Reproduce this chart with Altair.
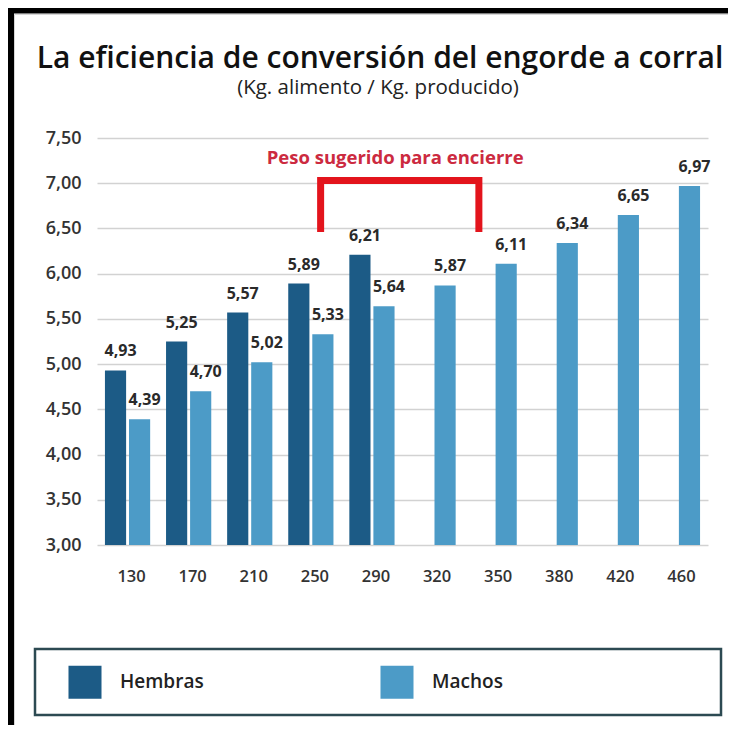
import altair as alt
import pandas as pd

categorias = ["130", "170", "210", "250", "290", "320", "350", "380", "420", "460"]
hembras = [4.93, 5.25, 5.57, 5.89, 6.21, None, None, None, None, None]
machos = [4.39, 4.70, 5.02, 5.33, 5.64, 5.87, 6.11, 6.34, 6.65, 6.97]
series = ["Hembras", "Machos"]
colores = ["#1c5b86", "#4c9bc7"]

titulo = "La eficiencia de conversión del engorde a corral"
subtitulo = "(Kg. alimento / Kg. producido)"
nota = "Peso sugerido para encierre"

# bracket in band units (0..10 across the x range) and y data units
bracket_x = [3.66, 3.66, 6.25, 6.25]
bracket_y = [6.46, 7.03, 7.03, 6.46]

FONT = "Open Sans"
W, H = 611, 407

rows = []
for c, h, m in zip(categorias, hembras, machos):
    if h is not None:
        rows.append({"peso": c, "sexo": "Hembras", "valor": h})
    if m is not None:
        rows.append({"peso": c, "sexo": "Machos", "valor": m})
df = pd.DataFrame(rows)

xenc = alt.X("peso:N", sort=categorias,
             scale=alt.Scale(paddingInner=0.26, paddingOuter=0.13),
             axis=alt.Axis(title=None, labelAngle=0, ticks=False, domain=False,
                           labelFont=FONT, labelFontSize=16.5, labelFontWeight=600,
                           labelColor="#333333", labelPadding=23, labelOffset=4))
xoff = alt.XOffset("sexo:N", scale=alt.Scale(domain=series, paddingInner=0.12))
yenc = alt.Y("valor:Q",
             scale=alt.Scale(domain=[3, 7.5], zero=False, nice=False),
             axis=alt.Axis(title=None, values=[3, 3.5, 4, 4.5, 5, 5.5, 6, 6.5, 7, 7.5],
                           labelExpr="replace(format(datum.value, '.2f'), '.', ',')",
                           ticks=False, domain=False, gridColor="#d2d2d2",
                           gridWidth=1.5, labelFont=FONT, labelFontSize=18,
                           labelFontWeight=600, labelColor="#333333",
                           labelPadding=16))

base = alt.Chart(df)

bars = base.mark_bar(clip=True).encode(
    x=xenc, xOffset=xoff, y=yenc,
    color=alt.Color("sexo:N", scale=alt.Scale(domain=series, range=colores),
                    legend=alt.Legend(title=None, orient="none", direction="horizontal",
                                      legendX=-29, legendY=527, symbolType="square",
                                      symbolSize=1090, symbolStrokeWidth=0,
                                      labelFont=FONT, labelFontSize=19,
                                      labelFontWeight=600, labelColor="#222222",
                                      labelOffset=18, columnPadding=176, padding=0))
)

labels = base.mark_text(font=FONT, fontSize=16, fontWeight=700, color="#2a2a2a",
                        baseline="alphabetic", dy=-14, dx=5).transform_calculate(
    lab="replace(format(datum.valor, '.2f'), '.', ',')"
).encode(x=xenc, xOffset=xoff, y=yenc, text="lab:N")

barras = alt.layer(bars, labels)

bdf = pd.DataFrame({"bx": bracket_x, "by": bracket_y, "o": list(range(len(bracket_x)))})
bracket = alt.Chart(bdf).mark_line(color="#e3141c", strokeWidth=7, strokeCap="butt",
                                   strokeJoin="miter").encode(
    x=alt.X("bx:Q", scale=alt.Scale(domain=[0, 10], nice=False, zero=False), axis=None),
    y=alt.Y("by:Q", axis=None),
    order="o:Q")

nota_df = pd.DataFrame({"t": [nota], "nx": [4.88], "ny": [7.28]})
nota_txt = alt.Chart(nota_df).mark_text(font=FONT, fontSize=18.5, fontWeight=700,
                                         color="#cc2a40", baseline="middle").encode(
    x=alt.X("nx:Q", scale=alt.Scale(domain=[0, 10], nice=False, zero=False), axis=None),
    y=alt.Y("ny:Q", axis=None), text="t:N")

title_txt = alt.Chart(pd.DataFrame({"t": [titulo]})).mark_text(
    font=FONT, fontSize=30, fontWeight=600, color="#111111", align="center",
    baseline="alphabetic").encode(x=alt.value(283), y=alt.value(-70), text="t:N")
sub_txt = alt.Chart(pd.DataFrame({"t": [subtitulo]})).mark_text(
    font=FONT, fontSize=20.5, fontWeight=400, color="#222222", align="center",
    baseline="alphabetic").encode(x=alt.value(281), y=alt.value(-44), text="t:N")

one = pd.DataFrame({"t": [0]})
# decorative frame: thick black top and left edges, thin grey inner edges
frame_top = alt.Chart(one).mark_rule(color="#000000", strokeWidth=6).encode(
    x=alt.value(-92), x2=alt.value(W + 25), y=alt.value(-127.5))
frame_left = alt.Chart(one).mark_rule(color="#000000", strokeWidth=6).encode(
    x=alt.value(-86), y=alt.value(-130), y2=alt.value(H + 200))
inner_top = alt.Chart(one).mark_rule(color="#d6d6d6", strokeWidth=1).encode(
    x=alt.value(-82.5), x2=alt.value(W + 25), y=alt.value(-123.5))
inner_left = alt.Chart(one).mark_rule(color="#d6d6d6", strokeWidth=1).encode(
    x=alt.value(-82.5), y=alt.value(-123.5), y2=alt.value(H + 200))
legbox = alt.Chart(one).mark_rect(
    fill=None, stroke="#2c4a52", strokeWidth=2.5).encode(
    x=alt.value(-62), x2=alt.value(624), y=alt.value(511), y2=alt.value(577))

chart = alt.layer(frame_top, frame_left, inner_top, inner_left, legbox, barras,
                  bracket, nota_txt, title_txt, sub_txt).resolve_scale(
    x="independent").resolve_axis(y="independent").properties(
    width=W, height=H,
    padding={"left": 89, "top": 130, "right": 20, "bottom": 180},
    autosize=alt.AutoSizeParams(type="none"),
).configure(background="#ffffff").configure_view(stroke=None)

chart.save("out.html", embed_options={"renderer": "svg", "actions": False})
